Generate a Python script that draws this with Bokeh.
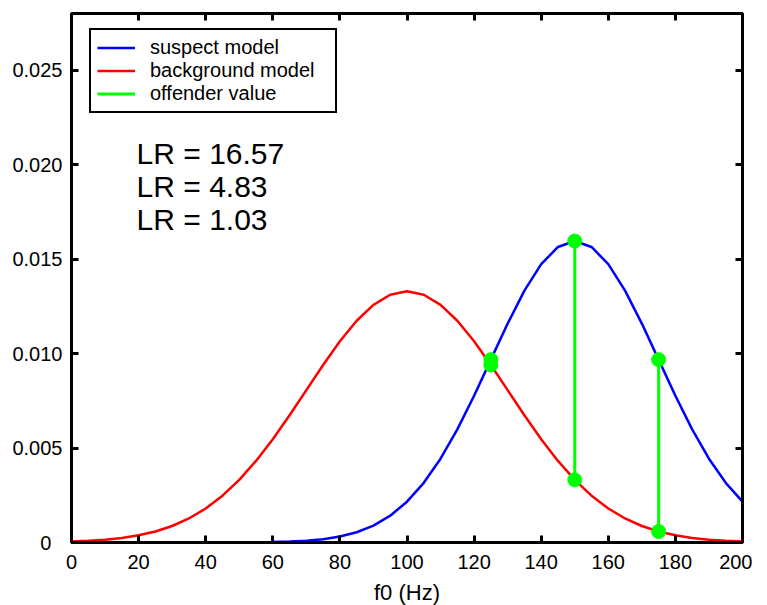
from bokeh.plotting import figure
from bokeh.models import (Range1d, LinearAxis, FixedTicker, Legend, LegendItem,
                          PrintfTickFormatter, CustomJSTickFormatter)
from bokeh.core.properties import value
from bokeh.embed import file_html
from bokeh.resources import INLINE

# ---------------- data ----------------
f0 = [0, 5, 10, 15, 20, 25, 30, 35, 40, 45, 50, 55, 60, 65, 70, 75, 80, 85, 90, 95,
      100, 105, 110, 115, 120, 125, 130, 135, 140, 145, 150, 155, 160, 165, 170, 175,
      180, 185, 190, 195, 200]

suspect = [0.0, 0.0, 0.0, 0.0, 0.0, 0.0, 0.0, 0.0, 0.000001, 0.000002,
           0.000005, 0.000012, 0.000025, 0.000049, 0.000095, 0.000177, 0.000317,
           0.000543, 0.000896, 0.001419, 0.002160, 0.003158, 0.004437, 0.005989,
           0.007768, 0.009679, 0.011588, 0.013329, 0.014731, 0.015642, 0.015958,
           0.015642, 0.014731, 0.013329, 0.011588, 0.009679, 0.007768, 0.005989,
           0.004437, 0.003158, 0.002160]

background = [0.000051, 0.000088, 0.000148, 0.000240, 0.000380, 0.000584, 0.000874,
              0.001272, 0.001800, 0.002477, 0.003316, 0.004317, 0.005467, 0.006733,
              0.008066, 0.009397, 0.010648, 0.011736, 0.012579, 0.013115, 0.013298,
              0.013115, 0.012579, 0.011736, 0.010648, 0.009397, 0.008066, 0.006733,
              0.005467, 0.004317, 0.003316, 0.002477, 0.001800, 0.001272, 0.000874,
              0.000584, 0.000380, 0.000240, 0.000148, 0.000088, 0.000051]

offender_f0 = [125, 150, 175]

lr_labels = ["LR = 16.57", "LR = 4.83", "LR = 1.03"]

x_ticks = [0, 20, 40, 60, 80, 100, 120, 140, 160, 180, 200]
y_ticks = [0, 0.005, 0.010, 0.015, 0.020, 0.025]

legend_labels = ["suspect model", "background model", "offender value"]

# ---------------- figure ----------------
FONT = "Liberation Sans"

p = figure(output_backend="svg", toolbar_location=None,
           frame_width=671, frame_height=529,
           x_range=Range1d(0, 200), y_range=Range1d(0, 0.028),
           x_axis_label="f0 (Hz)")
p.min_border_left = 71
p.min_border_top = 13
p.min_border_right = 10
p.min_border_bottom = 5
p.xgrid.visible = False
p.ygrid.visible = False
p.outline_line_color = "black"
p.outline_line_width = 3
p.background_fill_color = "white"
p.border_fill_color = "white"

def style_axis(ax, ticks, show_labels, standoff):
    ax.ticker = FixedTicker(ticks=ticks)
    ax.axis_line_color = "black"
    ax.axis_line_width = 3
    ax.major_tick_line_color = "black"
    ax.major_tick_line_width = 3
    ax.major_tick_in = 7
    ax.major_tick_out = 0
    ax.minor_tick_line_color = None
    ax.major_label_text_font = FONT
    ax.major_label_text_color = "black"
    if show_labels:
        ax.major_label_text_font_size = "20px"
        ax.major_label_standoff = standoff
    else:
        ax.formatter = CustomJSTickFormatter(code="return '';")
        ax.major_label_text_font_size = "1px"
        ax.major_label_standoff = 0

xa = p.xaxis[0]
style_axis(xa, x_ticks, True, 12)
xa.axis_label_text_font = FONT
xa.axis_label_text_font_size = "22px"
xa.axis_label_text_font_style = "normal"
xa.axis_label_text_color = "black"
xa.axis_label_standoff = 8

ya = p.yaxis[0]
style_axis(ya, y_ticks, True, 9)
ya.formatter = PrintfTickFormatter(format="%.3f")
ya.major_label_overrides = {0: "0\u2007"}

top_axis = LinearAxis()
style_axis(top_axis, x_ticks, False, 0)
p.add_layout(top_axis, "above")
right_axis = LinearAxis()
style_axis(right_axis, y_ticks, False, 0)
p.add_layout(right_axis, "right")

# ---------------- curves ----------------
r_sus = p.line(f0, suspect, line_color="#0000ff", line_width=2.5)
r_bg = p.line(f0, background, line_color="#ff0000", line_width=2.5)

idx = [f0.index(v) for v in offender_f0]
off_sus = [suspect[i] for i in idx]
off_bg = [background[i] for i in idx]

r_off = p.segment(x0=offender_f0, y0=off_bg, x1=offender_f0, y1=off_sus,
                  line_color="#00ff00", line_width=3)
p.scatter(offender_f0 + offender_f0, off_sus + off_bg, size=14,
          fill_color="#00ff00", line_color="#00ff00")

# ---------------- LR text ----------------
p.text(x=[19.4, 19.4, 19.4], y=[0.02058, 0.01883, 0.01708], text=lr_labels,
       text_font=value(FONT), text_font_size="30px", text_color="black",
       text_baseline="alphabetic", text_align="left")

# ---------------- legend ----------------
legend = Legend(items=[LegendItem(label=legend_labels[0], renderers=[r_sus]),
                       LegendItem(label=legend_labels[1], renderers=[r_bg]),
                       LegendItem(label=legend_labels[2], renderers=[r_off])],
                location=(18, 429))
legend.margin = 0
legend.padding = 6
legend.spacing = 0
legend.label_height = 21
legend.glyph_height = 21
legend.glyph_width = 38
legend.label_standoff = 15
legend.label_width = 179
legend.label_text_font = FONT
legend.label_text_font_size = "20px"
legend.label_text_color = "black"
legend.border_line_color = "black"
legend.border_line_alpha = 1
legend.border_line_width = 2
legend.background_fill_color = "white"
legend.background_fill_alpha = 1
p.add_layout(legend, "center")

open("out.html", "w").write(file_html(p, INLINE))
